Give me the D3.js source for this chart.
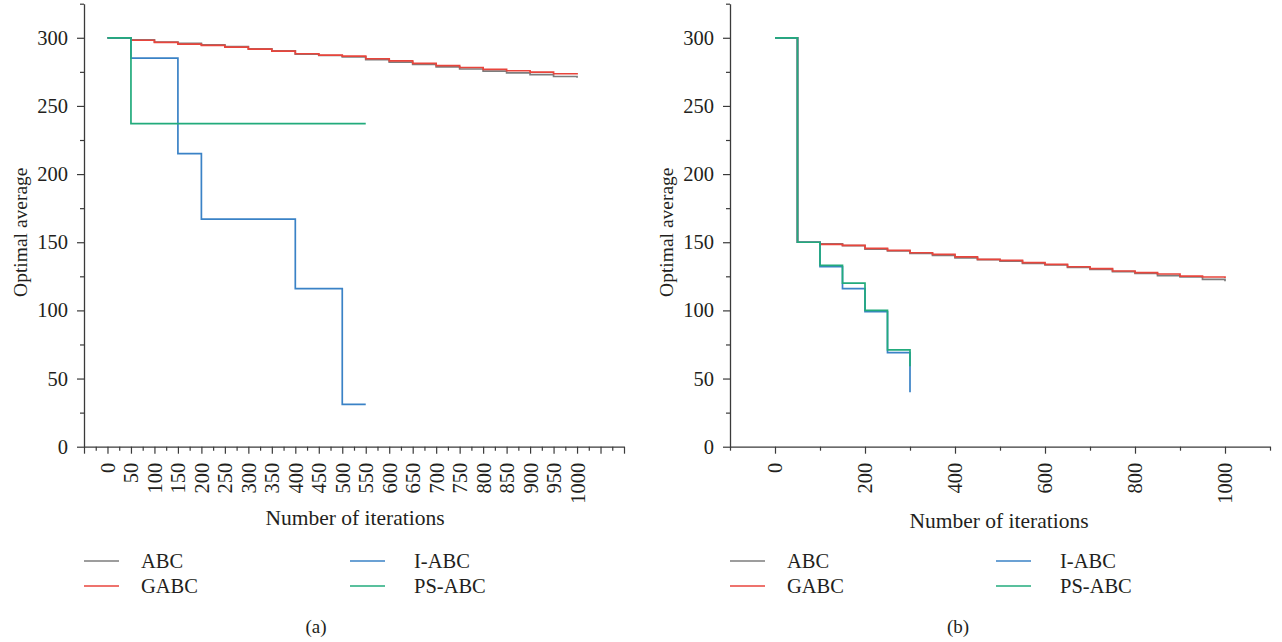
<!DOCTYPE html>
<html><head><meta charset="utf-8">
<script src="https://cdn.jsdelivr.net/npm/d3@7"></script>
<style>
html,body{margin:0;padding:0;background:#fff;}
svg{display:block;}
text{font-family:"Liberation Serif","Times New Roman",serif;fill:#231f20;}
</style></head>
<body>
<svg id="chart" width="1282" height="642"></svg>
<script>
// ---------- DATA ----------
const seriesNames = ["ABC", "GABC", "I-ABC", "PS-ABC"];
const seriesColors = ["#7d7d7d", "#e8453c", "#3a82c6", "#22ab7c"];

const stepIters = [0,50,100,150,200,250,300,350,400,450,500,550,600,650,700,750,800,850,900,950,1000];

// Panel (a)
const abcA  = [300,298.4,296.9,295.9,294.8,293.6,291.9,290.4,288.0,287.0,286.0,284.0,282.2,280.5,278.6,277.1,275.6,274.3,272.9,271.6,270.6];
const gabcA = [300,298.2,296.6,295.4,294.4,293.2,291.7,290.2,288.3,287.3,286.5,284.6,283.1,281.2,279.5,278.2,276.8,275.8,274.8,273.6,273.0];
const iabcItersA = [0,50,150,200,400,500,550];
const iabcA      = [300,285,215,167,116,31,31];
const psabcItersA = [0,50,550];
const psabcA      = [300,237,237];

// Panel (b)
const abcB  = [300,150,148.9,147.5,145.0,143.6,141.8,140.4,138.5,137.2,136.2,134.5,133.3,131.5,130.1,128.5,127.2,125.5,124.5,122.8,121.3];
const gabcB = [300,150,148.4,147.7,145.5,144.0,142.3,141.1,139.2,137.4,136.7,135.0,133.8,132.0,130.6,128.9,127.7,126.7,125.2,124.5,123.8];
const iabcItersB = [0,50,100,150,200,250,300];
const iabcB      = [300,150,132,116,99,69,40];
const psabcItersB = [0,50,100,150,200,250,300];
const psabcB      = [300,150,133,120,100,71,59];

// Ticks
const yMajorTicks = [0,50,100,150,200,250,300];
const yMinorTicks = [25,75,125,175,225,275,325];
const xMajorTicksA = d3.range(-50, 1101, 50);
const xMinorTicksA = d3.range(-25, 1100, 50);
const xLabelMaxA = 1000;
const xMajorTicksB = [0,200,400,600,800,1000];
const xMinorTicksB = [-100,100,300,500,700,900,1100];

const yTitle = "Optimal average";
const xTitle = "Number of iterations";
const panelLabels = ["(a)", "(b)"];

// ---------- DRAW ----------
const svg = d3.select("#chart");
const FS = 20.5;
const yTop = 3.7, yBottom = 446.7;

function drawPanel(cfg) {
  const g = svg.append("g");
  const x = d3.scaleLinear().domain(cfg.xDomain).range([cfg.left, cfg.right]);
  const y = d3.scaleLinear().domain([0, 325]).range([yBottom, yTop]);

  // y axis
  const yMaj = d3.axisLeft(y).tickValues(yMajorTicks).tickSize(7).tickSizeOuter(0).tickPadding(9);
  const gy = g.append("g").attr("transform", `translate(${cfg.left},0)`).call(yMaj);
  g.append("g").attr("transform", `translate(${cfg.left},0)`)
    .call(d3.axisLeft(y).tickValues(yMinorTicks).tickSize(4).tickSizeOuter(0).tickFormat(""))
    .select(".domain").remove();

  // x axis
  const xMaj = d3.axisBottom(x).tickValues(cfg.xMajor).tickSize(7).tickSizeOuter(0)
    .tickFormat(d => (d >= 0 && d <= cfg.labelMax) ? d : "");
  const gx = g.append("g").attr("transform", `translate(0,${yBottom})`).call(xMaj);
  g.append("g").attr("transform", `translate(0,${yBottom})`)
    .call(d3.axisBottom(x).tickValues(cfg.xMinor).tickSize(4).tickSizeOuter(0).tickFormat(""))
    .select(".domain").remove();

  g.selectAll("g").attr("font-family", null);
  g.selectAll(".domain").attr("stroke", "#3a3a3a").attr("stroke-width", 1.3);
  g.selectAll(".tick line").attr("stroke", "#3a3a3a").attr("stroke-width", 1.2);
  gy.selectAll(".tick text").attr("font-size", FS).attr("font-family", "Liberation Serif").attr("fill", "#231f20");
  gx.selectAll(".tick text")
    .attr("font-size", FS).attr("font-family", "Liberation Serif").attr("fill", "#231f20")
    .attr("text-anchor", "end")
    .attr("y", 0).attr("x", 0).attr("dy", "0.34em")
    .attr("transform", "translate(0,16) rotate(-90)");

  // lines
  const lineGen = d3.line().curve(d3.curveStepAfter).x(d => x(d[0])).y(d => y(d[1]));
  cfg.series.forEach((s, i) => {
    const pts = s.iters.map((it, k) => [it, s.vals[k]]);
    g.append("path").datum(pts)
      .attr("fill", "none").attr("stroke", seriesColors[i])
      .attr("stroke-width", 1.7).attr("d", lineGen);
  });

  // axis titles
  g.append("text").attr("transform", `translate(${cfg.left - 57},${(yTop + yBottom) / 2 + 7}) rotate(-90)`)
    .attr("text-anchor", "middle").attr("font-size", 19.5).text(yTitle);
  g.append("text").attr("x", cfg.titleX).attr("y", cfg.titleY)
    .attr("text-anchor", "middle").attr("font-size", FS + 1).text(xTitle);

  // legend
  const legendPos = [[0, 561], [0, 586], [266, 561], [266, 586]];
  const textOff = [57, 57, 330, 330];
  seriesNames.forEach((n, i) => {
    const [dx, ly] = legendPos[i];
    g.append("line").attr("x1", cfg.left + dx).attr("x2", cfg.left + dx + 35)
      .attr("y1", ly).attr("y2", ly).attr("stroke", seriesColors[i]).attr("stroke-width", 1.7);
    g.append("text").attr("x", cfg.left + textOff[i]).attr("y", ly + 7)
      .attr("font-size", FS).text(n);
  });

  g.append("text").attr("x", cfg.labelX).attr("y", 633).attr("text-anchor", "middle")
    .attr("font-size", FS - 1.5).text(cfg.panelLabel);
}

drawPanel({
  left: 84, right: 624, xDomain: [-50, 1100],
  xMajor: xMajorTicksA, xMinor: xMinorTicksA, labelMax: xLabelMaxA,
  titleX: 355, titleY: 525, labelX: 316, panelLabel: panelLabels[0],
  series: [
    {iters: stepIters, vals: abcA},
    {iters: stepIters, vals: gabcA},
    {iters: iabcItersA, vals: iabcA},
    {iters: psabcItersA, vals: psabcA}
  ]
});
drawPanel({
  left: 730, right: 1270, xDomain: [-100, 1100],
  xMajor: xMajorTicksB, xMinor: xMinorTicksB, labelMax: 1000,
  titleX: 999, titleY: 528, labelX: 958, panelLabel: panelLabels[1],
  series: [
    {iters: stepIters, vals: abcB},
    {iters: stepIters, vals: gabcB},
    {iters: iabcItersB, vals: iabcB},
    {iters: psabcItersB, vals: psabcB}
  ]
});
</script>
</body></html>
